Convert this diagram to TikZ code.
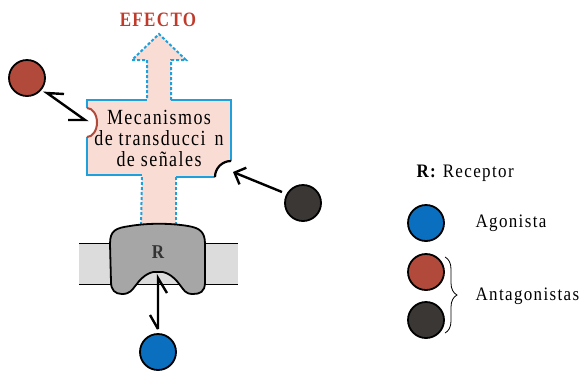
\documentclass[tikz,border=0pt]{standalone}
\usepackage{fontspec}
\usepackage{graphicx}
\setmainfont{Liberation Serif}
\newfontfamily\spaced[LetterSpace=8]{Liberation Serif}
\usetikzlibrary{arrows.meta,decorations.pathreplacing}
\definecolor{pinkfill}{HTML}{F9DDD4}
\definecolor{boxblue}{HTML}{1EA0DC}
\definecolor{efred}{HTML}{BF3B2C}
\definecolor{antred}{HTML}{B24A3B}
\definecolor{antdark}{HTML}{3B3735}
\definecolor{agblue}{HTML}{0A6FBF}
\definecolor{membgray}{HTML}{DCDCDC}
\definecolor{recgray}{HTML}{A6A6A6}
\begin{document}
\begin{tikzpicture}[x=1pt,y=-1pt,
  ligand/.style={circle,draw=black,line width=1.8pt,minimum size=36pt,inner sep=0pt},
  bluesolid/.style={draw=boxblue,line width=2pt},
  bluedash/.style={draw=boxblue,line width=2pt,dash pattern=on 3pt off 2pt},
  arr/.style={line width=2.4pt,black},
  lbl/.style={font=\fontsize{17}{21}\selectfont\spaced,anchor=west}]
\useasboundingbox (0,0) rectangle (586,373);

% membrane
\fill[membgray] (79,243) rectangle (238,284);
\draw[line width=1pt] (79,243) -- (238,243) (79,284) -- (238,284);

% pink shape
\fill[pinkfill] (159,34) -- (186,60) -- (171,60) -- (171,100) -- (231,100) -- (231,161)
  arc[start angle=-90,end angle=-180,radius=16] -- (176,177) -- (176,232) -- (141,232) -- (142,175)
  -- (87,175) -- (87,137) arc[start angle=90,end angle=-90,x radius=10,y radius=14.5]
  -- (87,100) -- (147,100) -- (147,60) -- (132,60) -- cycle;
\draw[bluedash] (171,100) -- (171,60) -- (186,60) -- (159,34) -- (132,60) -- (147,60) -- (147,100);
\draw[bluesolid] (171,100) -- (231,100) -- (231,161);
\draw[bluesolid] (215,177) -- (176,177);
\draw[bluesolid] (142,175) -- (87,175) -- (87,137);
\draw[bluesolid] (87,108) -- (87,100) -- (147,100);
\draw[bluedash] (142,177) -- (141,228);
\draw[bluedash] (176,177) -- (176,228);
\draw[antred,line width=2pt] (87,108) arc[start angle=-90,end angle=90,x radius=10,y radius=14.5];
\draw[black,line width=2.2pt] (231,161) arc[start angle=-90,end angle=-180,radius=16];

\node[font=\fontsize{17}{21}\selectfont\bfseries\spaced,text=efred] (efecto) at (158,20) {\scalebox{1}[1.2]{EFECTO}};
\node[align=center,font=\fontsize{18}{23}\selectfont\spaced,inner sep=0pt] (mec) at (159,138)
  {\scalebox{1}[1.2]{Mecanismos}\\[-2pt]\scalebox{1}[1.2]{de transducci\hspace{9pt}n}\\[-2pt]\scalebox{1}[1.2]{de señales}};

% receptor
\draw[fill=recgray,line width=1.8pt] (110,244) .. controls (110,230) and (116,228) .. (130,226)
  .. controls (148,223) and (170,223) .. (188,226) .. controls (200,228) and (205,232) .. (205,244)
  -- (205,282) .. controls (205,292) and (200,294) .. (193,294) .. controls (185,294) and (184,290) .. (180,285)
  .. controls (172,274) and (164,271) .. (158,272) .. controls (152,271) and (144,274) .. (136,285)
  .. controls (132,290) and (130,294) .. (122,294) .. controls (115,294) and (111,290) .. (111,282) -- cycle;
\node[font=\fontsize{17}{21}\selectfont\bfseries,text=black!80] (R) at (158,252) {\scalebox{1}[1.15]{R}};

% ligands
\node[ligand,fill=agblue] (ag) at (158,352) {};
\node[ligand,fill=antred] (ant1) at (27,78) {};
\node[ligand,fill=antdark] (ant2) at (303,203) {};

% agonist arrow
\coordinate (a1) at (158,329);
\coordinate (a2) at (158,278);
\draw[arr] (a1) -- (a2) -- (167,293);
\draw[arr] (a1) -- (150,315);

% red antagonist arrow
\coordinate (b1) at (47,93);
\coordinate (b2) at (85,120);
\draw[arr] (64,94) -- (b1) -- (b2) -- (68,120);

% dark antagonist arrow
\coordinate (c1) at (282,192);
\coordinate (c2) at (233,172);
\draw[arr,-{Straight Barb[length=9pt,width=18pt]}] (c1) -- (c2);

% legend
\node[lbl] (rlab) at (413,173) {\scalebox{1}[1.12]{\textbf{R:} Receptor}};
\node[ligand,fill=agblue] (lag) at (426,223) {};
\node[ligand,fill=antred] (lant1) at (426,272) {};
\node[ligand,fill=antdark] (lant2) at (426,320) {};
\node[lbl] (agl) at (472,223) {\scalebox{1}[1.12]{Agonista}};
\node[lbl] (antl) at (472,296) {\scalebox{1}[1.12]{Antagonistas}};
\draw[line width=0.8pt,decorate,decoration={brace,amplitude=12pt}] (445,257) -- (445,333);
\end{tikzpicture}
\end{document}
